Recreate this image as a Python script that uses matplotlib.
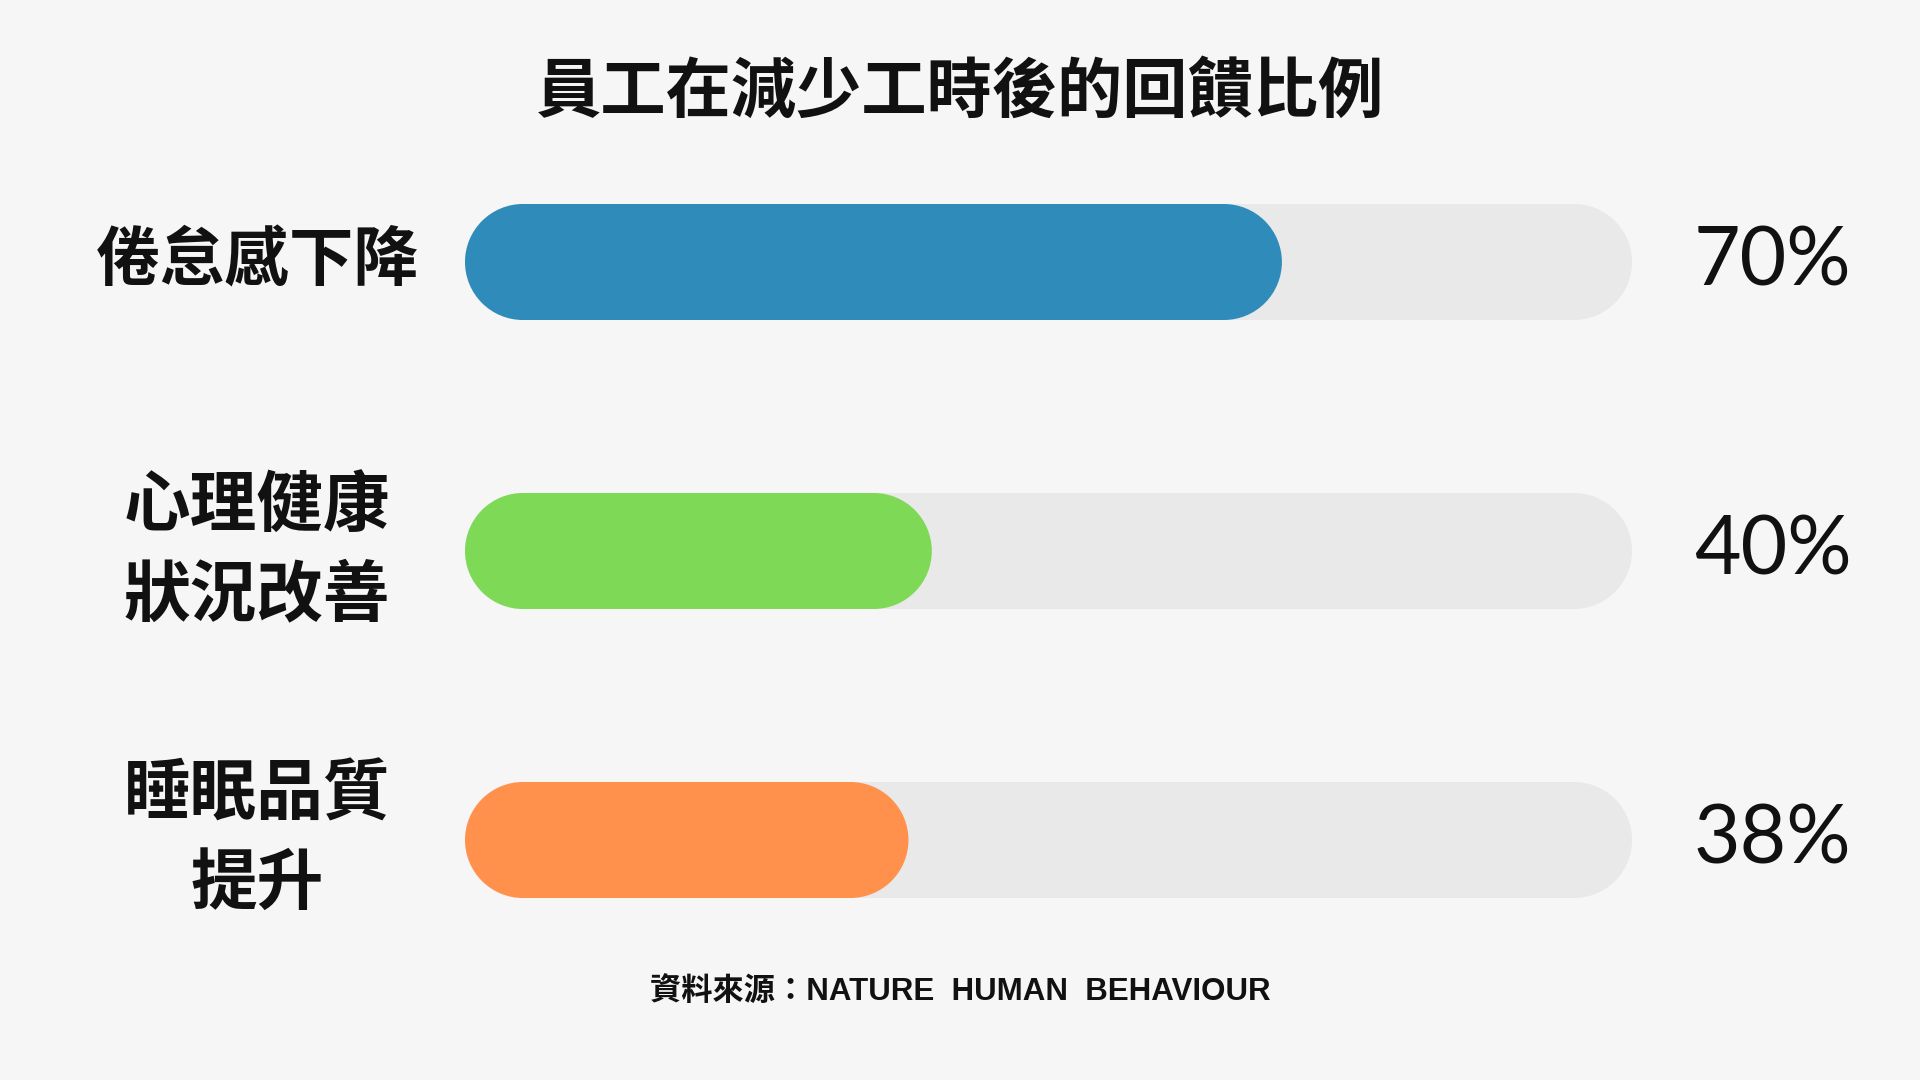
import matplotlib
matplotlib.use("Agg")
import matplotlib.pyplot as plt
from matplotlib.patches import Rectangle, Ellipse
import matplotlib.transforms as mtransforms

# ---- data ----
categories = ["倦怠感下降", "心理健康\n狀況改善", "睡眠品質\n提升"]
values = [70, 40, 38]
value_labels = ["70%", "40%", "38%"]
bar_colors = ["#2E8BBA", "#7ED957", "#FF914D"]
title = "員工在減少工時後的回饋比例"
source = "資料來源：NATURE  HUMAN  BEHAVIOUR"

BG = "#F6F6F6"
TRACK = "#E9E9E9"
CJK = ["Noto Sans CJK TC", "DejaVu Sans"]

W, H = 1920, 1080
fig = plt.figure(figsize=(W / 100, H / 100), dpi=100, facecolor=BG)

# axes region for bars (pixel geometry)
x0, x1 = 465, 1632
row_gap = 289
first_row = 262
top_px = first_row - row_gap / 2
bot_px = first_row + 2 * row_gap + row_gap / 2
ax = fig.add_axes([x0 / W, 1 - bot_px / H, (x1 - x0) / W, (bot_px - top_px) / H])
ax.set_facecolor(BG)
ax.set_xlim(0, 100)
ax.set_ylim(len(categories) - 0.5, -0.5)
ax.axis("off")

px_per_x = (x1 - x0) / 100.0
px_per_y = row_gap
bar_h_px = 116
bh = bar_h_px / px_per_y
r_x = (bar_h_px / 2) / px_per_x


def pill(y, v, color):
    ax.add_patch(Rectangle((r_x, y - bh / 2), v - 2 * r_x, bh,
                           facecolor=color, edgecolor="none"))
    for cx in (r_x, v - r_x):
        ax.add_patch(Ellipse((cx, y), 2 * r_x, bh, facecolor=color,
                             edgecolor="none"))


trans = mtransforms.blended_transform_factory(fig.transFigure, ax.transData)
for i, (cat, v, lab, c) in enumerate(zip(categories, values, value_labels, bar_colors)):
    pill(i, 100, TRACK)
    pill(i, v, c)
    fs = 46.5 if "\n" not in cat else 48
    fig.text(257 / W, i, cat, transform=trans, ha="center", va="center",
             multialignment="center", fontsize=fs, fontweight="heavy",
             family=CJK, color="#111111", linespacing=1.42)
    fig.text(1694 / W, i, lab, transform=trans, ha="left", va="center",
             fontsize=58, fontweight="normal", family=["Lato", "DejaVu Sans"],
             color="#111111")

fig.text(0.5, 1 - 92 / H, title, ha="center", va="center", fontsize=47,
         fontweight="heavy", family=CJK, color="#111111")
fig.text(0.5, 1 - 992 / H, source, ha="center", va="center", fontsize=22.5,
         fontweight="bold", family=["Liberation Sans", "Noto Sans CJK TC"],
         color="#111111")

fig.savefig("out.png", dpi=100, facecolor=BG)
